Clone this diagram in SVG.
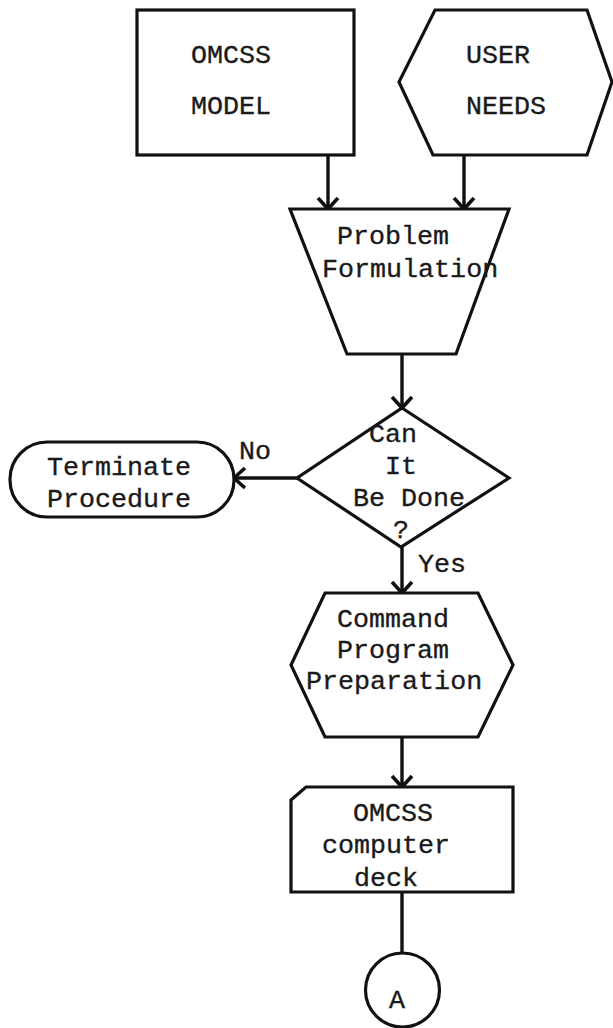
<svg xmlns="http://www.w3.org/2000/svg" width="613" height="1028" viewBox="0 0 613 1028">
  <style>
    .shape { fill: #ffffff; stroke: #111111; stroke-width: 3.2; stroke-linejoin: miter; }
    .wire { fill: none; stroke: #111111; stroke-width: 3.4; }
    .lbl { font-family: "Liberation Mono", "Courier New", monospace; font-size: 26.7px; fill: #1a1a1a; stroke: #1a1a1a; stroke-width: 0.35; }
  </style>
  <defs>
    <marker id="vhead" markerUnits="userSpaceOnUse" markerWidth="30" markerHeight="30" viewBox="-15 -15 30 30" refX="0" refY="0" orient="auto">
      <path d="M -11 -10 L 0 0 L -11 10" fill="none" stroke="#111111" stroke-width="3.6"/>
    </marker>
  </defs>
  <rect width="613" height="1028" fill="#ffffff"/>

  <g id="connectors">
    <line class="wire" x1="328" y1="155" x2="328" y2="209" marker-end="url(#vhead)"/>
    <line class="wire" x1="464" y1="155" x2="464" y2="209" marker-end="url(#vhead)"/>
    <line class="wire" x1="402" y1="354" x2="402" y2="408" marker-end="url(#vhead)"/>
    <line class="wire" x1="297" y1="478" x2="234" y2="478" marker-end="url(#vhead)"/>
    <line class="wire" x1="402" y1="547" x2="402" y2="593" marker-end="url(#vhead)"/>
    <line class="wire" x1="402" y1="737" x2="402" y2="787" marker-end="url(#vhead)"/>
    <line class="wire" x1="402" y1="892" x2="402" y2="953"/>
    <text class="lbl" x="239" y="459">No</text>
    <text class="lbl" x="418" y="572">Yes</text>
  </g>

  <g id="omcss-model">
    <rect class="shape" x="137" y="10" width="217" height="145"/>
    <text class="lbl" x="191" y="63">OMCSS</text>
    <text class="lbl" x="191" y="114">MODEL</text>
  </g>

  <g id="user-needs">
    <polygon class="shape" points="435,10 587,10 612,82 587,155 433,155 399,82"/>
    <text class="lbl" x="466" y="63">USER</text>
    <text class="lbl" x="466" y="114">NEEDS</text>
  </g>

  <g id="problem-formulation">
    <polygon class="shape" points="290,209 509,209 456,354 347,354"/>
    <text class="lbl" x="337" y="244">Problem</text>
    <text class="lbl" x="322" y="277">Formulation</text>
  </g>

  <g id="can-it-be-done">
    <polygon class="shape" points="402,408 509,478 401,547 297,478"/>
    <text class="lbl" x="369" y="442">Can</text>
    <text class="lbl" x="385" y="474">It</text>
    <text class="lbl" x="353" y="506">Be Done</text>
    <text class="lbl" x="393" y="538">?</text>
  </g>

  <g id="terminate-procedure">
    <rect class="shape" x="10" y="442" width="224" height="75" rx="37" ry="37"/>
    <text class="lbl" x="47" y="475">Terminate</text>
    <text class="lbl" x="47" y="507">Procedure</text>
  </g>

  <g id="command-program-preparation">
    <polygon class="shape" points="325,593 478,593 513,665 478,737 325,737 291,665"/>
    <text class="lbl" x="337" y="627">Command</text>
    <text class="lbl" x="337" y="658">Program</text>
    <text class="lbl" x="306" y="689">Preparation</text>
  </g>

  <g id="computer-deck">
    <polygon class="shape" points="306,787 513,787 513,892 291,892 291,800"/>
    <text class="lbl" x="353" y="821">OMCSS</text>
    <text class="lbl" x="322" y="853">computer</text>
    <text class="lbl" x="354" y="886">deck</text>
  </g>

  <g id="connector-a">
    <circle class="shape" cx="402.5" cy="990" r="37"/>
    <text class="lbl" x="389" y="1008">A</text>
  </g>
</svg>
